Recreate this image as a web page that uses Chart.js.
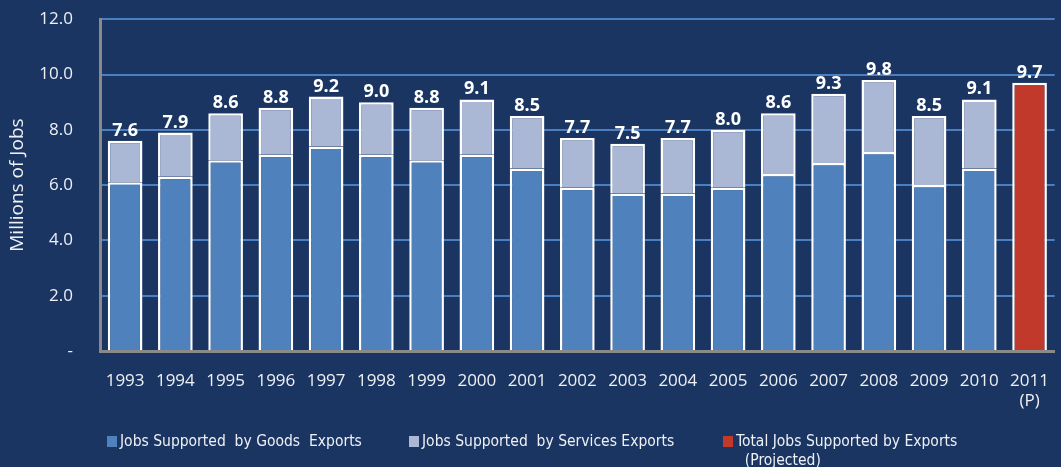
<!DOCTYPE html>
<html>
<head>
<meta charset="utf-8">
<script src="https://cdn.jsdelivr.net/npm/chart.js@4.4.0/dist/chart.umd.min.js"></script>
<style>
  html, body { margin:0; padding:0; background:#1b3563; overflow:hidden; width:1061px; height:467px; }
  #wrap { position:relative; width:1069px; height:467px; }
  canvas { position:absolute; left:0; top:-18px; }
  .leg { position:absolute; top:432px; color:#eef0f4; font-family:'Liberation Sans Narrow','DejaVu Sans Condensed','Noto Sans',sans-serif; font-size:15.5px; line-height:19px; white-space:nowrap; }
  .leg .box { position:absolute; left:0; top:4px; width:10px; height:11px; }
  .leg .txt { position:absolute; left:13px; top:0; }
</style>
</head>
<body>
<div id="wrap">
  <canvas id="c" width="1069" height="485"></canvas>
  <div class="leg" style="left:107px"><span class="box" style="background:#4f81bd"></span><span class="txt">Jobs Supported&nbsp; by Goods&nbsp; Exports</span></div>
  <div class="leg" style="left:409px"><span class="box" style="background:#aab8d6"></span><span class="txt">Jobs Supported&nbsp; by Services Exports</span></div>
  <div class="leg" style="left:723px"><span class="box" style="background:#c0392b"></span><span class="txt">Total Jobs Supported by Exports<br>&nbsp;&nbsp;(Projected)</span></div>
</div>
<script>
const categories = ['1993','1994','1995','1996','1997','1998','1999','2000','2001','2002','2003','2004','2005','2006','2007','2008','2009','2010',['2011','(P)']];
const goods    = [6.1, 6.3, 6.9, 7.1, 7.4, 7.1, 6.9, 7.1, 6.6, 5.9, 5.7, 5.7, 5.9, 6.4, 6.8, 7.2, 6.0, 6.6, null];
const services = [1.5, 1.6, 1.7, 1.7, 1.8, 1.9, 1.9, 2.0, 1.9, 1.8, 1.8, 2.0, 2.1, 2.2, 2.5, 2.6, 2.5, 2.5, null];
const projected = [null,null,null,null,null,null,null,null,null,null,null,null,null,null,null,null,null,null, 9.7];
const totals   = [7.6, 7.9, 8.6, 8.8, 9.2, 9.0, 8.8, 9.1, 8.5, 7.7, 7.5, 7.7, 8.0, 8.6, 9.3, 9.8, 8.5, 9.1, 9.7];
const yTickLabels = ['-', '2.0', '4.0', '6.0', '8.0', '10.0', '12.0'];

const totalLabels = {
  id: 'totalLabels',
  afterDatasetsDraw(chart) {
    const {ctx, scales} = chart;
    ctx.save();
    ctx.fillStyle = '#ffffff';
    ctx.font = 'bold 18px "Open Sans", sans-serif';
    ctx.textAlign = 'center';
    ctx.textBaseline = 'alphabetic';
    totals.forEach((t, i) => {
      const x = scales.x.getPixelForValue(i);
      const y = scales.y.getPixelForValue(t);
      ctx.fillText(t.toFixed(1), x, y - 5);
    });
    ctx.restore();
  }
};

new Chart(document.getElementById('c'), {
  type: 'bar',
  data: {
    labels: categories,
    datasets: [
      { label: 'Jobs Supported by Goods Exports', data: goods, backgroundColor: '#4f81bd', borderColor: '#ffffff', borderWidth: 2.5, stack: 's' },
      { label: 'Jobs Supported by Services Exports', data: services, backgroundColor: '#aab8d6', borderColor: '#ffffff', borderWidth: 2.5, stack: 's' },
      { label: 'Total Jobs Supported by Exports (Projected)', data: projected, backgroundColor: '#c0392b', borderColor: '#ffffff', borderWidth: 2.5, stack: 's' }
    ]
  },
  options: {
    responsive: false,
    animation: false,
    devicePixelRatio: 1,
    layout: { padding: { top: 0, left: 0, right: 0, bottom: 0 } },
    datasets: { bar: { categoryPercentage: 1, barPercentage: 0.69 } },
    plugins: { legend: { display: false }, tooltip: { enabled: false } },
    scales: {
      x: {
        stacked: true,
        grid: { display: true, drawOnChartArea: false, drawTicks: false },
        border: { display: true, color: '#8a8a8a', width: 3 },
        ticks: { color: '#eef0f4', font: { family: '"Open Sans", sans-serif', size: 17 }, padding: 20, maxRotation: 0, autoSkip: false },
        afterFit(s) { s.height = 116; }
      },
      y: {
        stacked: true,
        min: 0, max: 12,
        ticks: {
          stepSize: 2,
          color: '#eef0f4',
          font: { family: '"Open Sans", sans-serif', size: 17 },
          padding: 27,
          callback: (v, i) => yTickLabels[i]
        },
        grid: {
          color: (c) => (c.tick && c.tick.value === 0) ? 'rgba(0,0,0,0)' : '#4a7fc1',
          lineWidth: 2,
          drawTicks: false
        },
        border: { display: true, color: '#8a8a8a', width: 3 },
        title: { display: true, text: 'Millions of Jobs', color: '#eef0f4', font: { family: '"Open Sans", sans-serif', size: 19 }, padding: { top: 6, bottom: 0 } },
        afterFit(s) { s.width = 100; }
      }
    }
  },
  plugins: [totalLabels]
});
</script>
</body>
</html>
